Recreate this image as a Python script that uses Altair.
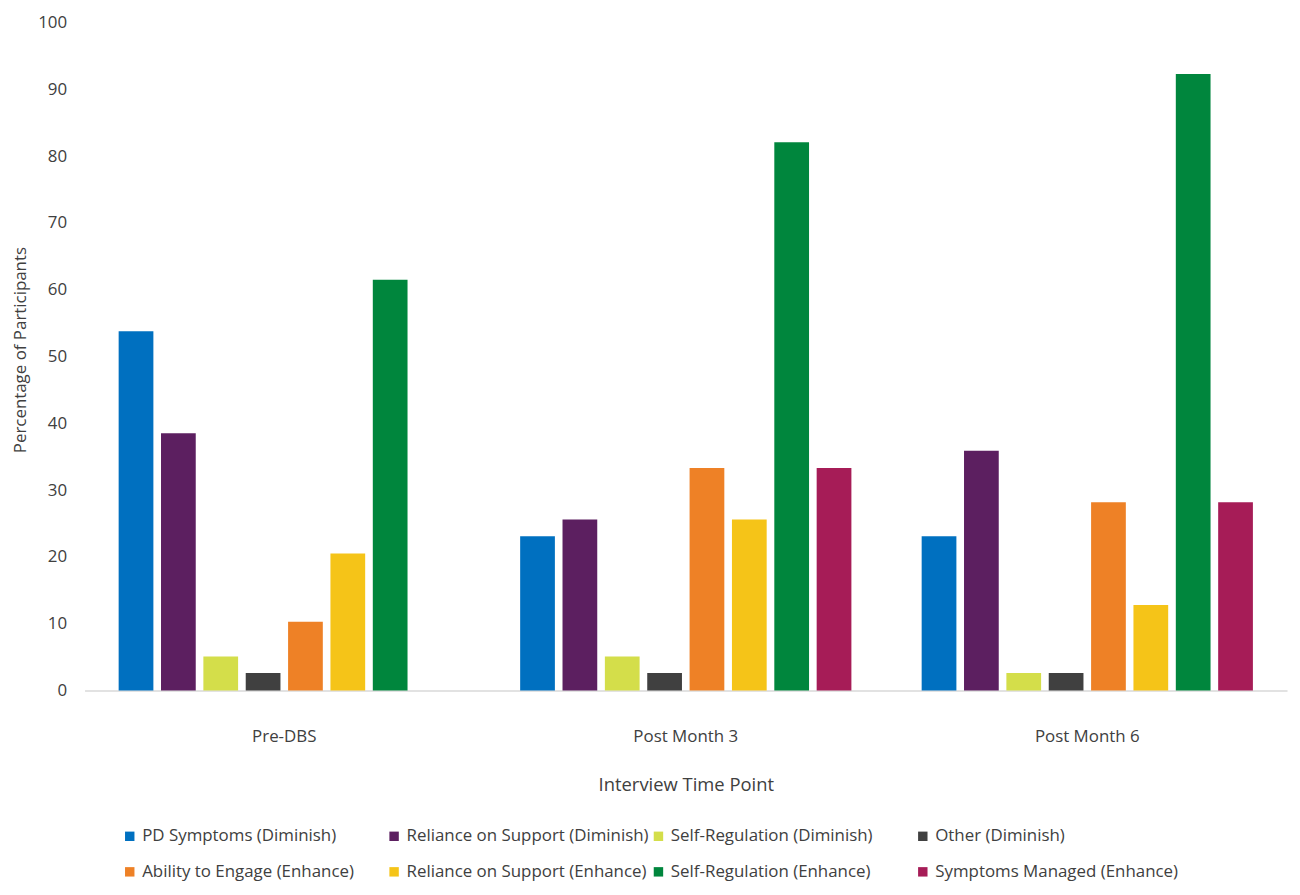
import altair as alt
import pandas as pd

time_points = ["Pre-DBS", "Post Month 3", "Post Month 6"]
series = [
    "PD Symptoms (Diminish)",
    "Reliance on Support (Diminish)",
    "Self-Regulation (Diminish)",
    "Other (Diminish)",
    "Ability to Engage (Enhance)",
    "Reliance on Support (Enhance)",
    "Self-Regulation (Enhance)",
    "Symptoms Managed (Enhance)",
]
colors = ["#0070C0", "#5C1F60", "#D4DE4A", "#404040",
          "#EE8126", "#F5C418", "#00863D", "#A61C57"]

pre_dbs = [53.8, 38.5, 5.1, 2.6, 10.3, 20.5, 61.5, None]
post_m3 = [23.1, 25.6, 5.1, 2.6, 33.3, 25.6, 82.1, 33.3]
post_m6 = [23.1, 35.9, 2.6, 2.6, 28.2, 12.8, 92.3, 28.2]

rows = []
for tp, vals in zip(time_points, [pre_dbs, post_m3, post_m6]):
    for s, v in zip(series, vals):
        if v is not None:
            rows.append({"time": tp, "series": s, "value": v})
df = pd.DataFrame(rows)

FONT = "Open Sans"
TXT = "#404040"

chart = alt.Chart(df).mark_bar().encode(
    x=alt.X("time:N", sort=time_points,
            scale=alt.Scale(paddingInner=0.175, paddingOuter=0.085),
            axis=alt.Axis(title="Interview Time Point", labelAngle=0,
                          ticks=False, domainColor="#D9D9D9", domainWidth=1.5,
                          labelPadding=38, labelFontSize=17, labelColor=TXT,
                          labelFont=FONT, titleFont=FONT, titleFontSize=18.5,
                          titleFontWeight="normal", titleColor=TXT,
                          titleY=95, titleBaseline="middle")),
    xOffset=alt.XOffset("series:N", sort=series,
                        scale=alt.Scale(domain=series, paddingInner=0.18, paddingOuter=0)),
    y=alt.Y("value:Q",
            scale=alt.Scale(domain=[0, 100]),
            axis=alt.Axis(title="Percentage of Participants", values=list(range(0, 101, 10)),
                          grid=False, ticks=False, domain=False,
                          labelPadding=18, labelFontSize=17, labelColor=TXT,
                          labelFont=FONT, titleFont=FONT, titleFontSize=17,
                          titleFontWeight="normal", titleColor=TXT,
                          titleX=-64, titleY=329, titleBaseline="middle")),
    color=alt.Color("series:N", sort=series,
                    scale=alt.Scale(domain=series, range=colors),
                    legend=alt.Legend(title=None, orient="none", legendX=37, legendY=810,
                                      direction="horizontal",
                                      columns=4, gridAlign="all", symbolType="square",
                                      symbolSize=90, symbolStrokeWidth=0,
                                      labelFont=FONT, labelFontSize=17, labelColor=TXT,
                                      labelLimit=400, columnPadding=0, rowPadding=18,
                                      labelOffset=4)),
).properties(
    width=1210, height=672,
    padding={"left": 77, "top": 12, "right": 5, "bottom": 190},
    autosize=alt.AutoSizeParams(type="none"),
).configure_view(stroke=None)

chart.save("out.html", embed_options={"renderer": "svg", "actions": False})
